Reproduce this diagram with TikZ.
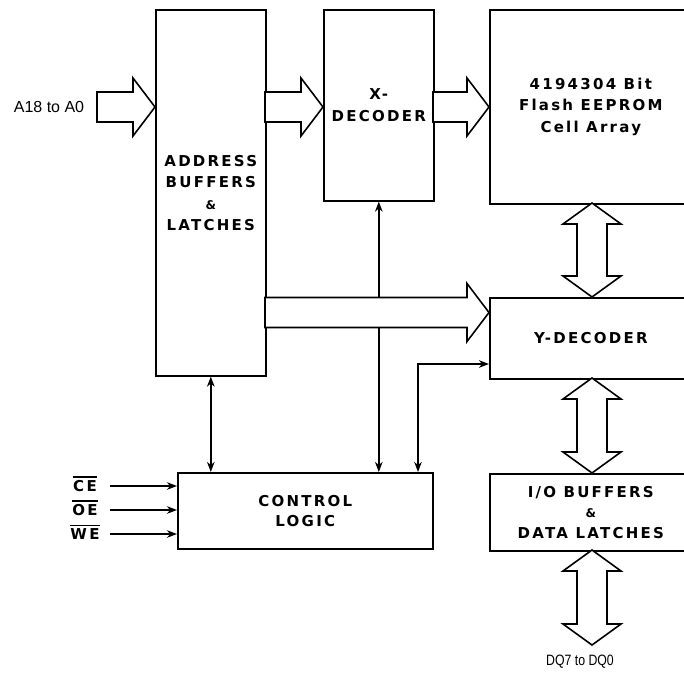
\documentclass[tikz,border=0pt]{standalone}
\usepackage{fontspec}
\usepackage{graphicx}
\setmainfont{Liberation Sans}
\newfontfamily\boxfont[LetterSpace=15]{DejaVu Sans Bold}
\newfontfamily\ampfont{DejaVu Sans Bold}
\usetikzlibrary{arrows.meta,calc}
\newcommand\boxfnt{\boxfont\fontsize{15}{21.5}\selectfont}
\newcommand\amp{{\ampfont\fontsize{12}{21.5}\selectfont\&}}
\newcommand\ovl[1]{\vbox{\hrule height 1.4pt \kern 2.5pt \hbox{#1}}}
\newcommand\hfat[3]{\draw[fat] (#1,#3-15) -- (#2-22,#3-15) -- (#2-22,#3-29) -- (#2,#3) -- (#2-22,#3+29) -- (#2-22,#3+15) -- (#1,#3+15) -- cycle;}
\newcommand\vfat[3]{\draw[fat] (#1,#2) -- (#1+29,#2+21) -- (#1+15,#2+21) -- (#1+15,#3-21) -- (#1+29,#3-21) -- (#1,#3) -- (#1-29,#3-21) -- (#1-15,#3-21) -- (#1-15,#2+21) -- (#1-29,#2+21) -- cycle;}
\begin{document}
\begin{tikzpicture}[x=1pt,y=-1pt,
  box/.style={draw, line width=1.6pt, anchor=north west, inner sep=0pt, align=center, font=\boxfnt},
  fat/.style={draw, fill=white, line width=1.6pt, line join=miter},
  tip/.tip={Stealth[length=10pt,width=7.5pt,inset=3pt]},
  sigline/.style={-tip, line width=1.5pt},
  dblline/.style={tip-tip, line width=1.5pt},
  siglbl/.style={font=\boxfnt, inner sep=0pt}]
\useasboundingbox (0,0) rectangle (684,675);
\clip (0,0) rectangle (684,675);
% blocks
\node[box, minimum width=110pt, minimum height=366pt] (addr) at (155,9) {ADDRESS\\BUFFERS\\\amp\\LATCHES};
\node[box, minimum width=110pt, minimum height=191pt] (xdec) at (323,9) {X-\\DECODER};
\node[box, minimum width=202pt, minimum height=194pt] (array) at (489,9) {4194304 Bit\\Flash EEPROM\\Cell Array};
\node[box, minimum width=202pt, minimum height=81pt] (ydec) at (489,297) {Y-DECODER};
\node[box, minimum width=202pt, minimum height=77pt, font=\boxfont\fontsize{15}{20.5}\selectfont] (io) at (489,473) {I/O BUFFERS\\\amp\\DATA LATCHES};
\node[box, minimum width=255pt, minimum height=76pt, font=\boxfont\fontsize{15}{20}\selectfont] (ctrl) at (177,472) {CONTROL\\LOGIC};
% external labels
\node[font=\fontsize{16}{18}\selectfont, inner sep=0pt] (alab) at (49,107) {A18 to A0};
\node[font=\fontsize{15}{17}\selectfont, inner sep=0pt] (dqlab) at (580,662) {\scalebox{0.82}[1]{DQ7 to DQ0}};
\node[siglbl] (ce) at (85,484) {\ovl{CE}};
\node[siglbl] (oe) at (85,508) {\ovl{OE}};
\node[siglbl] (we) at (85,532) {\ovl{WE}};
% thin connectors
\coordinate (cestart) at (110,486);
\coordinate (oestart) at (110,510);
\coordinate (westart) at (110,534);
\draw[sigline] (cestart) -- (cestart -| ctrl.west);
\draw[sigline] (oestart) -- (oestart -| ctrl.west);
\draw[sigline] (westart) -- (westart -| ctrl.west);
\draw[dblline] (addr.south) -- (addr.south |- ctrl.north);
\draw[dblline] (xdec.south) -- (xdec.south |- ctrl.north);
\coordinate (ybend) at (418,364);
\draw[dblline] (ybend |- ctrl.north) -- (ybend) -- (ybend -| ydec.west);
% wide bus arrows
\hfat{97}{155}{107}
\hfat{265}{323}{107}
\hfat{433}{489}{107}
\hfat{265}{489}{312.5}
\vfat{592}{203}{297}
\vfat{592}{378}{473}
\vfat{592}{550}{645}
\end{tikzpicture}
\end{document}
